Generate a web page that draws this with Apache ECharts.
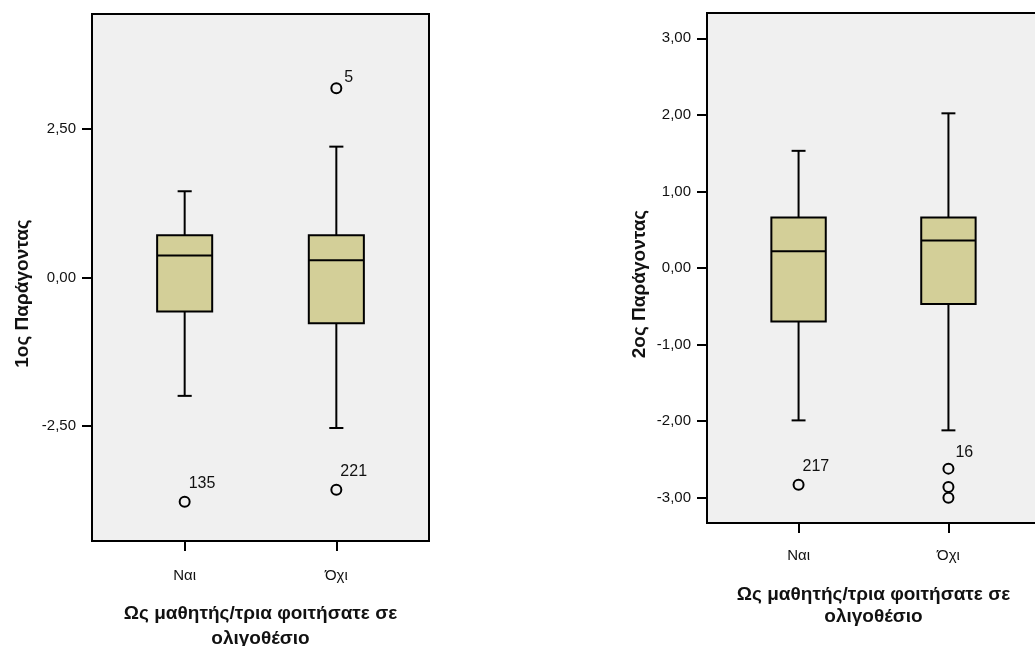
<!DOCTYPE html>
<html>
<head>
<meta charset="utf-8">
<script src="https://cdn.jsdelivr.net/npm/echarts@6/dist/echarts.min.js"></script>
<style>
  html, body { margin: 0; padding: 0; background: #fff; }
  #chart { width: 1035px; height: 646px; }
</style>
</head>
<body>
<div id="chart"></div>
<script>
// Groups on the x axis
const categories = ['Ναι', 'Όχι'];

// Box statistics per group: [lower whisker, Q1, median, Q3, upper whisker]
const factor1Boxes = [
  [-1.99, -0.57, 0.37, 0.71, 1.45],
  [-2.53, -0.77, 0.29, 0.71, 2.20]
];
const factor2Boxes = [
  [-1.99, -0.70, 0.22, 0.66, 1.53],
  [-2.12, -0.47, 0.36, 0.66, 2.02]
];

// Outliers: [group index, value, case label]
const factor1Outliers = [
  [0, -3.77, '135'],
  [1, 3.18, '5'],
  [1, -3.57, '221']
];
const factor2Outliers = [
  [0, -2.83, '217'],
  [1, -2.62, '16'],
  [1, -2.86, ''],
  [1, -3.00, '']
];

// Value-axis ticks and extents
const factor1Ticks = [-2.5, 0, 2.5];
const factor2Ticks = [-3, -2, -1, 0, 1, 2, 3];
const factor1Range = [-4.43, 4.43];
const factor2Range = [-3.33, 3.33];

const factor1Title = '1ος Παράγοντας';
const factor2Title = '2ος Παράγοντας';
const groupTitle = 'Ως μαθητής/τρια φοιτήσατε σε\nολιγοθέσιο';

// ---------- styling ----------
const BOX_FILL = '#d3cf98';
const PLOT_BG = '#f0f0f0';
const FONT = '"Liberation Sans", Arial, sans-serif';
const X_PAD = 0.611;       // extra room around the two groups, in group units
const BOX_W = 0.363;       // box width, in group units
const CAP_W = 0.093;       // whisker cap width, in group units

// label placement relative to the outlier marker centre
const labelOffsets = { '5': [8, -11], '16': [7, -16] };
const defaultOffset = [4, -18];

const commaFmt = v => v.toFixed(2).replace('.', ',');

function renderBox(params, api) {
  const x = api.value(0);
  const lo = api.coord([x, api.value(1)]);
  const q1 = api.coord([x, api.value(2)]);
  const md = api.coord([x, api.value(3)]);
  const q3 = api.coord([x, api.value(4)]);
  const hi = api.coord([x, api.value(5)]);
  const bw = api.size([BOX_W, 0])[0];
  const cw = api.size([CAP_W, 0])[0];
  const cx = lo[0];
  const line = { stroke: '#000', lineWidth: 2 };
  return {
    type: 'group',
    children: [
      { type: 'line', shape: { x1: cx, y1: hi[1], x2: cx, y2: q3[1] }, style: line },
      { type: 'line', shape: { x1: cx, y1: q1[1], x2: cx, y2: lo[1] }, style: line },
      { type: 'line', shape: { x1: cx - cw / 2, y1: hi[1], x2: cx + cw / 2, y2: hi[1] }, style: line },
      { type: 'line', shape: { x1: cx - cw / 2, y1: lo[1], x2: cx + cw / 2, y2: lo[1] }, style: line },
      { type: 'rect', shape: { x: cx - bw / 2, y: q3[1], width: bw, height: q1[1] - q3[1] },
        style: { fill: BOX_FILL, stroke: '#000', lineWidth: 2 } },
      { type: 'line', shape: { x1: cx - bw / 2, y1: md[1], x2: cx + bw / 2, y2: md[1] }, style: line }
    ]
  };
}

function boxSeries(idx, boxes) {
  return {
    type: 'custom',
    xAxisIndex: idx, yAxisIndex: idx,
    renderItem: renderBox,
    encode: { x: 0, y: [1, 2, 3, 4, 5] },
    data: boxes.map((b, i) => [i].concat(b)),
    z: 2
  };
}

function outlierSeries(idx, outliers) {
  return {
    type: 'scatter',
    xAxisIndex: idx, yAxisIndex: idx,
    symbol: 'circle',
    symbolSize: 10,
    itemStyle: { color: 'rgba(0,0,0,0)', borderColor: '#000', borderWidth: 2, opacity: 1 },
    data: outliers.map(o => ({
      value: [o[0], o[1]],
      name: o[2],
      label: { offset: labelOffsets[o[2]] || defaultOffset }
    })),
    label: {
      show: true,
      position: 'inside',
      align: 'left',
      verticalAlign: 'middle',
      formatter: p => p.name,
      color: '#111',
      fontFamily: FONT,
      fontSize: 16
    },
    emphasis: { disabled: true },
    z: 3
  };
}

function xAxis(idx, lineHeight, gap) {
  return {
    type: 'value', gridIndex: idx,
    min: -X_PAD, max: 1 + X_PAD,
    splitLine: { show: false },
    axisLine: { show: true, onZero: false, lineStyle: { color: '#000', width: 2 } },
    axisTick: { show: true, customValues: [0, 1], length: 10, lineStyle: { color: '#000', width: 2 } },
    axisLabel: {
      customValues: [0, 1],
      formatter: v => categories[Math.round(v)],
      margin: 27 - idx * 2,
      color: '#111', fontFamily: FONT, fontSize: 15
    },
    name: groupTitle,
    nameLocation: 'middle',
    nameGap: gap,
    nameTextStyle: {
      color: '#111', fontFamily: FONT, fontSize: 19, fontWeight: 'bold', lineHeight: lineHeight
    }
  };
}

function yAxis(idx, range, ticks, title, gap) {
  return {
    type: 'value', gridIndex: idx,
    min: range[0], max: range[1],
    splitLine: { show: false },
    axisLine: { show: true, onZero: false, lineStyle: { color: '#000', width: 2 } },
    axisTick: { show: true, customValues: ticks, length: 10, lineStyle: { color: '#000', width: 2 } },
    axisLabel: {
      customValues: ticks,
      formatter: commaFmt,
      margin: 16,
      color: '#111', fontFamily: FONT, fontSize: 15
    },
    name: title,
    nameLocation: 'middle',
    nameGap: gap,
    nameTextStyle: {
      color: '#111', fontFamily: FONT, fontSize: 19, fontWeight: 'bold',
      padding: [0, 32, 0, 0]
    }
  };
}

const chart = echarts.init(document.getElementById('chart'), null, { renderer: 'canvas' });
chart.setOption({
  animation: false,
  backgroundColor: '#fff',
  grid: [
    { left: 92, top: 14, width: 337, height: 527, show: true, backgroundColor: PLOT_BG,
      borderColor: '#000', borderWidth: 2, outerBoundsMode: 'none', containLabel: false },
    { left: 707, top: 13, width: 333, height: 510, show: true, backgroundColor: PLOT_BG,
      borderColor: '#000', borderWidth: 2, outerBoundsMode: 'none', containLabel: false }
  ],
  xAxis: [xAxis(0, 25, 60), xAxis(1, 22, 61)],
  yAxis: [
    yAxis(0, factor1Range, factor1Ticks, factor1Title, 60),
    yAxis(1, factor2Range, factor2Ticks, factor2Title, 58)
  ],
  series: [
    boxSeries(0, factor1Boxes),
    outlierSeries(0, factor1Outliers),
    boxSeries(1, factor2Boxes),
    outlierSeries(1, factor2Outliers)
  ]
});
</script>
</body>
</html>
